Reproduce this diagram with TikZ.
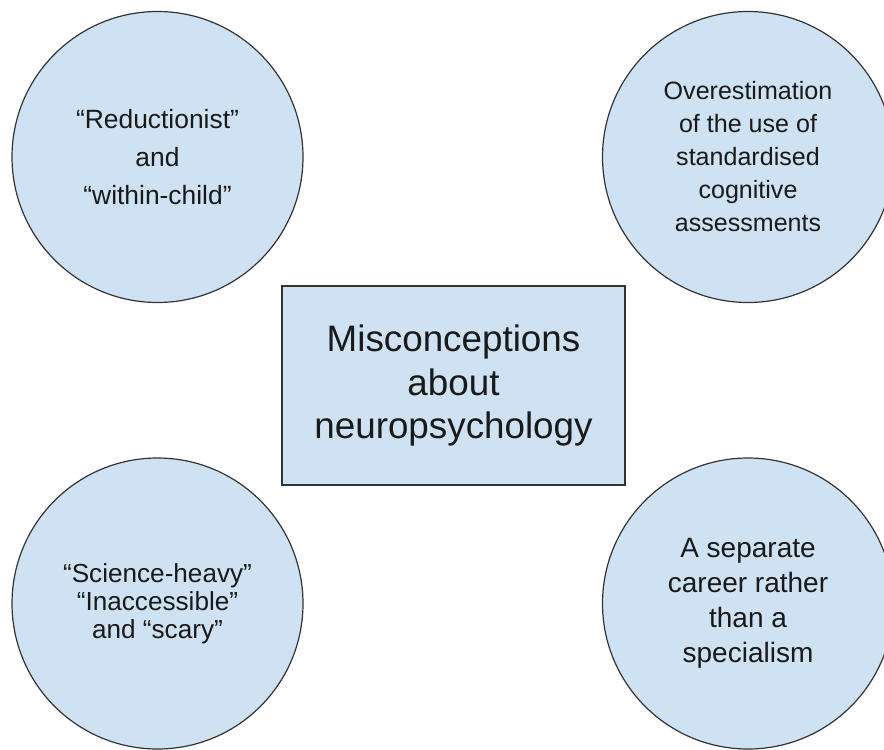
\documentclass[tikz,border=0pt]{standalone}
\usepackage{fontspec}
\setmainfont{Liberation Sans}
\definecolor{bubble}{HTML}{CFE2F3}
\definecolor{edge}{HTML}{333333}

\begin{document}
\begin{tikzpicture}[x=0.75pt,y=-0.75pt,
  idea/.style={circle,draw=edge,fill=bubble,line width=0.9pt,minimum size=218.25pt,inner sep=0pt,align=center,text=black!90,font=\fontsize{18.8pt}{24.75pt}\selectfont},
  topic/.style={rectangle,draw=edge,fill=bubble,line width=0.9pt,minimum width=257.25pt,minimum height=149.25pt,inner sep=0pt,align=center,text=black!90,font=\fontsize{27.6pt}{32.3pt}\selectfont}]
\useasboundingbox (0,0) rectangle (884,749);
\clip (0,0) rectangle (884,749);
\node[topic] (misc) at (453.5,385.5) {Misconceptions\\about\\neuropsychology};
\node[idea,font=\fontsize{19.8pt}{28.5pt}\selectfont] (reduct) at (157.5,157) {“Reductionist”\\and\\“within-child”};
\node[idea] (overest) at (748,157) {Overestimation\\of the use of\\standardised\\cognitive\\assessments};
\node[idea,font=\fontsize{19.6pt}{21pt}\selectfont] (science) at (157.5,603.5) {“Science-heavy”\\“Inaccessible”\\and “scary”};
\node[idea,font=\fontsize{21pt}{26.2pt}\selectfont] (career) at (748,603.5) {A separate\\career rather\\than a\\specialism};
\end{tikzpicture}
\end{document}
